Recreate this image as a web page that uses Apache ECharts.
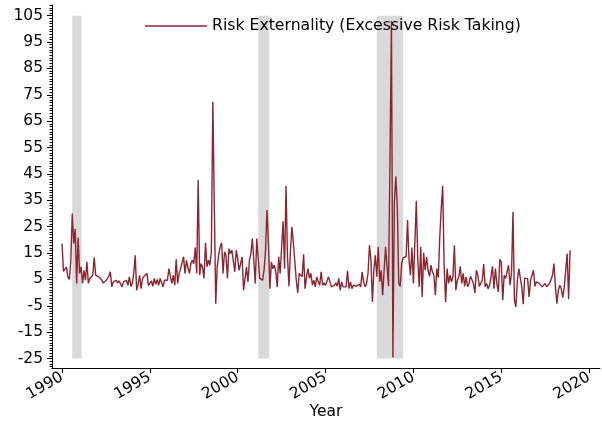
<!DOCTYPE html>
<html><head><meta charset="utf-8">
<script src="https://cdn.jsdelivr.net/npm/echarts@6/dist/echarts.min.js"></script>
<style>html,body{margin:0;padding:0;background:#fff}#c{width:602px;height:423px}</style>
</head><body><div id="c"></div>
<script>
const seriesName = 'Risk Externality (Excessive Risk Taking)';
const startYear = 1990; // monthly observations, starting January 1990
const risk1990s = [
  18.6, 8.1, 8.1, 9.8, 6.0, 5.0, 12, 30.0, 18.6, 24.1,
  3.5, 20.9, 7.3, 9.8, 3.5, 8.5, 4.7, 11.7, 3.5, 5.4,
  6.0, 6.6, 13.3, 6.6, 6.2, 6.0, 5.7, 5.0, 3.7, 4.1,
  4.5, 5.4, 6.2, 7.9, 2.2, 4.1, 3.5, 4.7, 3.7, 4.5,
  5.0, 2.2, 4.1, 3.5, 4.7, 2.8, 6.0, 2.4, 3.5, 7.3,
  14.2, 0.9, 3.2, 6.6, 1.5, 5.4, 6.2, 5.7, 7.3, 2.7,
  3.2, 4.5, 2.4, 5.4, 3.2, 5.0, 2.8, 5.4, 5.4, 2.2,
  4.7, 4.1, 4.7, 9.1, 9.5, 3.5, 6.6, 2.8, 12.6, 3.5,
  7.3, 9.1, 8.5, 13.6, 7.3, 12.3, 9.5, 7.3, 11.0, 12.3,
  11.0, 17.1, 7.3, 42.7, 6.6, 11.0, 9.5, 5.4, 18.9, 9.8,
  12.3, 10.4, 15.5, 72.4, 34, -4.2, 9.8, 14.2, 17.4, 18.9,
  7.3, 15.5, 14.2, 5.4, 16.7, 14.8, 16.1, 15.5, 7.9, 16.1
];
const risk2000s = [
  12.9, 8.5, 11.0, 13.6, 0.9, 1.5, 9.8, 4.1, 12.3, 14.8,
  20.5, 12.3, 3.5, 20.5, 19.9, 5.4, 5.4, 4.7, 8.5, 16.1,
  31.3, 18.6, 1.5, 11.7, 9.1, 10.4, 7.9, 2.2, 13.6, 7.3,
  17.4, 27.1, 9.1, 40.4, 13.6, 2.4, 15.5, 25.0, 18.9, 18.4,
  4.7, -0.1, 7.3, 7.9, 6.0, 14.5, 1.5, 6.0, 9.1, 5.4,
  7.3, 2.8, 4.7, 2.2, 6.0, 4.1, 2.8, 7.9, 2.8, 3.7,
  2.8, 3.5, 6.0, 5.4, 2.2, 2.4, 2.8, 3.7, 2.4, 5.4,
  0.9, 4.1, 2.2, 2.8, 2.2, 8.3, 1.5, 4.1, 1.5, 2.8,
  2.2, 2.4, 2.4, 3.2, 2.2, 7.9, 4.1, 2.2, 3.5, 7.3,
  18.0, 12.3, -3.5, 8.5, 14.2, 6.0, 17.4, 4.1, 8.5, -1.0,
  8.5, 17.4, 9.8, 2.4, 50, 103, -24.6, 34.4, 44, 32.5,
  3.5, 2.4, 11.0, 13.3, 13.8, 13.6, 27.5, 12.3, 6.6, 17.1
];
const risk2010s = [
  3.5, 4.1, 34.8, 12.3, 2.2, 17.4, -1.6, 15.1, 8.5, 13.6,
  8.5, 6.2, 10.4, 7.9, 6.6, -1.0, 9.1, 5.7, 21.2, 31.9,
  40.4, 9.8, -3.5, 9.1, 3.5, 6.6, 4.1, 6.0, 18.0, 0.9,
  4.7, 6.0, 10.0, 3.5, 7.3, 2.4, 6.0, 2.2, 3.5, 6.2,
  6.6, 3.5, -0.1, 8.5, 6.6, 2.4, 3.5, 4.7, 10.8, 2.2,
  3.5, 1.5, 2.8, 6.0, 10.0, 1.5, 9.1, 3.5, 0.3, 12.6,
  11.7, -2.9, 6.6, 5.4, 6.0, 10.4, 2.8, 7.3, 30.7, -2.9,
  -5.4, 4.7, 9.1, 9.1, 2.2, -4.4, 5.4, 4.7, 5.4, -1.6,
  4.7, 5.4, 8.5, 2.4, 4.1, 3.5, 3.5, 4.1, 2.2, 2.4,
  3.5, 2.2, 2.8, 3.5, 4.1, 6.6, 11.0, 2.2, -4.2, 0.9,
  2.8, 1.5, -1.9, 1.9, 2.2, 14.8, -2.4, 16.1
];
const recessionStarts = [1990.58, 2001.17, 2007.92];
const recessionEnds   = [1991.12, 2001.80, 2009.42];
const shadeLow = -25, shadeHigh = 105;
const yTicks = [-25, -15, -5, 5, 15, 25, 35, 45, 55, 65, 75, 85, 95, 105];
const xTicks = [1990, 1995, 2000, 2005, 2010, 2015, 2020];

const values = risk1990s.concat(risk2000s, risk2010s);
const data = values.map((v, i) => [startYear + i / 12, v]);
const minorTicks = [];
for (let v = -28; v <= 109; v++) if ((v + 25) % 10 !== 0) minorTicks.push(v);

const FONT = 'DejaVu Sans';
const LINE = '#8a2633';
const yMin = -28.57, yMax = 109.06;
const chart = echarts.init(document.getElementById('c'), null, {renderer: 'canvas'});
chart.setOption({
  animation: false,
  backgroundColor: '#fff',
  grid: {left: 52, right: 2, top: 5, bottom: 55, containLabel: false, outerBoundsMode: 'none'},
  legend: {
    data: [{name: seriesName, icon: 'rect', itemStyle: {color: LINE}}],
    left: 140, top: 13, itemWidth: 62, itemHeight: 1.4, itemGap: 0,
    textStyle: {fontSize: 15.7, color: '#000', fontFamily: FONT}
  },
  xAxis: {
    type: 'value', min: 1989.43, max: 2020.62,
    name: 'Year', nameLocation: 'middle', nameGap: 36, nameMoveOverlap: false,
    nameTextStyle: {fontSize: 15.5, color: '#000', fontFamily: FONT},
    axisLine: {show: true, onZero: false, lineStyle: {color: '#000', width: 1}},
    axisTick: {show: true, customValues: xTicks, length: 5, lineStyle: {color: '#000'}},
    axisLabel: {customValues: xTicks, rotate: 30, fontSize: 15.5, color: '#000', fontFamily: FONT, margin: 8,
      formatter: v => String(v)},
    splitLine: {show: false}
  },
  yAxis: [{
    type: 'value', min: yMin, max: yMax,
    axisLine: {show: true, onZero: false, lineStyle: {color: '#000', width: 1}},
    axisTick: {show: true, customValues: yTicks, length: 5, lineStyle: {color: '#000'}},
    axisLabel: {customValues: yTicks, fontSize: 15.5, color: '#000', fontFamily: FONT, margin: 9,
      formatter: v => String(v)},
    splitLine: {show: false}
  }, {
    type: 'value', min: yMin, max: yMax, position: 'left',
    axisLine: {show: false, onZero: false},
    axisTick: {show: true, customValues: minorTicks, length: 2.5, lineStyle: {color: '#000'}},
    axisLabel: {show: false},
    splitLine: {show: false}
  }],
  series: [{
    type: 'line', data: [], z: 1, silent: true,
    markArea: {
      silent: true,
      itemStyle: {color: '#d9d9d9'},
      data: recessionStarts.map((s, k) => [{xAxis: s, yAxis: shadeLow}, {xAxis: recessionEnds[k], yAxis: shadeHigh}])
    }
  }, {
    name: seriesName, type: 'line', data: data, z: 3,
    symbol: 'none', showSymbol: false,
    lineStyle: {color: LINE, width: 1.4},
    itemStyle: {color: LINE}
  }]
});
</script></body></html>
